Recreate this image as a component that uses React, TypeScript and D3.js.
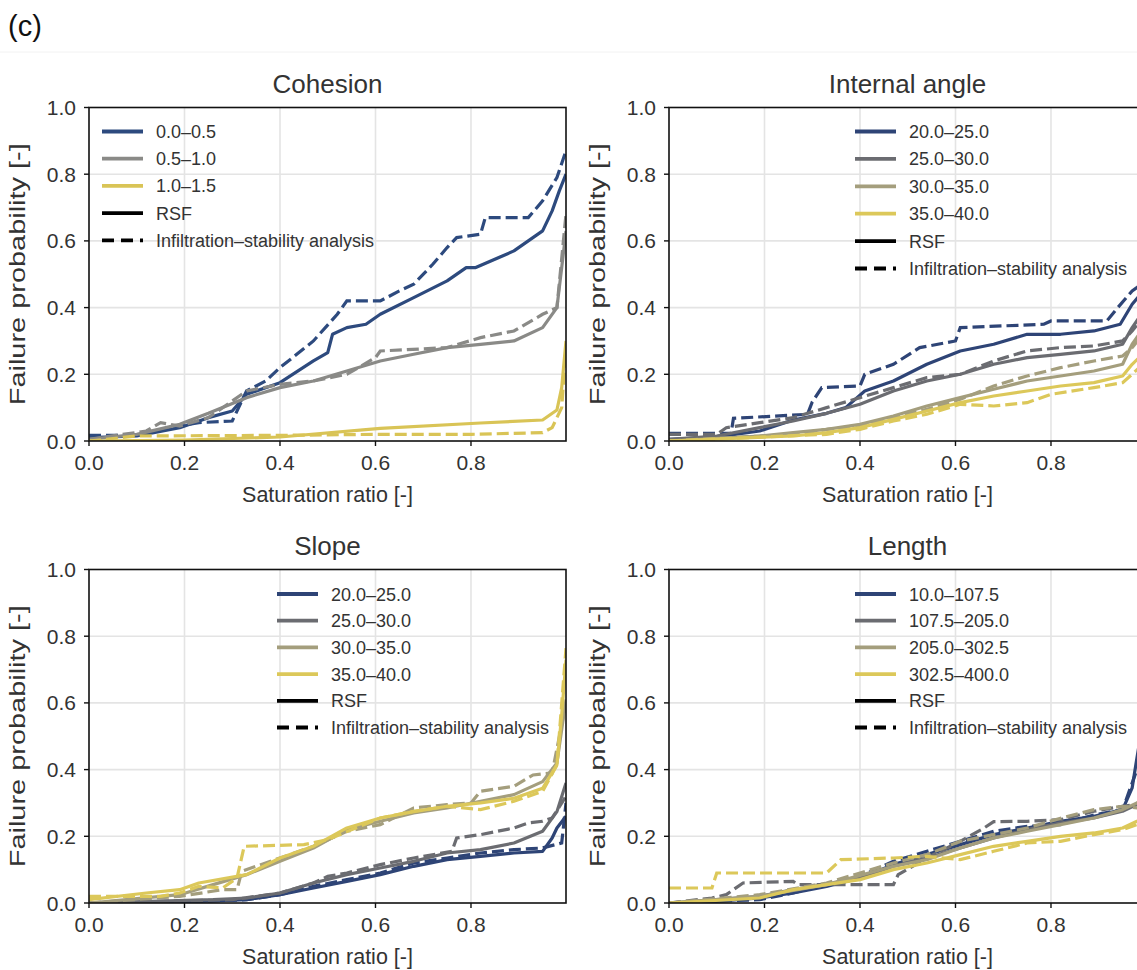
import React from "react";
import * as d3 from "d3";

type Pt = [number, number];

// ---------- Data ----------
const xTicks = [0, 0.2, 0.4, 0.6, 0.8];
const yTicks = [0, 0.2, 0.4, 0.6, 0.8, 1.0];
const panelTitles = ["Cohesion", "Internal angle", "Slope", "Length"];
const cohesionClasses = ["0.0–0.5", "0.5–1.0", "1.0–1.5"];
const angleClasses = ["20.0–25.0", "25.0–30.0", "30.0–35.0", "35.0–40.0"];
const slopeClasses = ["20.0–25.0", "25.0–30.0", "30.0–35.0", "35.0–40.0"];
const lengthClasses = ["10.0–107.5", "107.5–205.0", "205.0–302.5", "302.5–400.0"];
const methodLabels = ["RSF", "Infiltration–stability analysis"];

const colors3 = ["#2d4a7e", "#8a8a87", "#d9c456"];
const colors4 = ["#2e4476", "#6b6c71", "#a49e7d", "#dcc85a"];

// Cohesion
const cBlueRsf: Pt[] = [[0,0.01],[0.1,0.015],[0.19,0.04],[0.25,0.07],[0.3,0.09],[0.33,0.14],[0.4,0.175],[0.47,0.24],[0.5,0.265],[0.51,0.32],[0.54,0.34],[0.58,0.35],[0.61,0.38],[0.68,0.43],[0.75,0.48],[0.79,0.52],[0.81,0.52],[0.89,0.57],[0.95,0.63],[0.97,0.69],[0.985,0.75],[0.999,0.8]];
const cBlueIsa: Pt[] = [[0,0.017],[0.1,0.017],[0.19,0.045],[0.23,0.055],[0.3,0.06],[0.33,0.15],[0.37,0.18],[0.4,0.22],[0.47,0.3],[0.52,0.38],[0.54,0.42],[0.61,0.42],[0.65,0.45],[0.68,0.47],[0.72,0.53],[0.75,0.58],[0.77,0.61],[0.82,0.62],[0.83,0.67],[0.92,0.67],[0.95,0.72],[0.98,0.79],[0.999,0.87]];
const cGrayRsf: Pt[] = [[0,0.005],[0.1,0.02],[0.19,0.05],[0.25,0.083],[0.33,0.13],[0.4,0.16],[0.47,0.18],[0.54,0.21],[0.61,0.24],[0.68,0.26],[0.75,0.28],[0.82,0.29],[0.89,0.3],[0.95,0.34],[0.98,0.4],[0.99,0.52],[0.999,0.63]];
const cGrayIsa: Pt[] = [[0,0.005],[0.12,0.03],[0.15,0.055],[0.19,0.045],[0.25,0.07],[0.33,0.15],[0.4,0.17],[0.47,0.18],[0.54,0.2],[0.6,0.25],[0.61,0.27],[0.75,0.28],[0.82,0.31],[0.89,0.33],[0.95,0.38],[0.98,0.4],[0.999,0.68]];
const cYellowRsf: Pt[] = [[0,0],[0.2,0.003],[0.4,0.012],[0.61,0.038],[0.82,0.054],[0.95,0.063],[0.98,0.093],[0.99,0.16],[0.999,0.3]];
const cYellowIsa: Pt[] = [[0,0],[0.1,0.015],[0.4,0.017],[0.61,0.02],[0.8,0.02],[0.95,0.025],[0.97,0.04],[0.99,0.1],[0.999,0.28]];

// Internal angle
const aBlueRsf: Pt[] = [[0,0.005],[0.1,0.012],[0.19,0.03],[0.26,0.063],[0.33,0.083],[0.37,0.1],[0.41,0.15],[0.47,0.18],[0.54,0.23],[0.61,0.27],[0.68,0.29],[0.75,0.32],[0.82,0.32],[0.89,0.33],[0.945,0.35],[0.97,0.41],[0.999,0.46]];
const aBlueIsa: Pt[] = [[0,0.023],[0.13,0.023],[0.135,0.068],[0.29,0.08],[0.3,0.117],[0.32,0.16],[0.4,0.165],[0.41,0.2],[0.47,0.23],[0.525,0.28],[0.6,0.3],[0.61,0.34],[0.785,0.35],[0.8,0.36],[0.917,0.36],[0.94,0.4],[0.97,0.45],[0.999,0.48]];
const aDgrayRsf: Pt[] = [[0,0.005],[0.1,0.015],[0.19,0.04],[0.26,0.06],[0.33,0.083],[0.4,0.11],[0.47,0.15],[0.54,0.18],[0.61,0.2],[0.68,0.23],[0.75,0.25],[0.82,0.26],[0.89,0.27],[0.95,0.29],[0.97,0.34],[0.999,0.4]];
const aDgrayIsa: Pt[] = [[0,0.02],[0.1,0.02],[0.12,0.04],[0.19,0.055],[0.26,0.07],[0.33,0.1],[0.4,0.13],[0.47,0.16],[0.54,0.19],[0.61,0.2],[0.68,0.24],[0.75,0.27],[0.82,0.28],[0.89,0.285],[0.95,0.3],[0.97,0.33],[0.999,0.38]];
const aTanRsf: Pt[] = [[0,0],[0.19,0.015],[0.26,0.025],[0.33,0.035],[0.4,0.05],[0.47,0.075],[0.54,0.105],[0.61,0.13],[0.68,0.155],[0.75,0.18],[0.82,0.195],[0.89,0.21],[0.95,0.23],[0.97,0.29],[0.999,0.35]];
const aTanIsa: Pt[] = [[0,0],[0.26,0.02],[0.33,0.035],[0.4,0.045],[0.47,0.07],[0.54,0.095],[0.61,0.125],[0.68,0.165],[0.75,0.195],[0.82,0.22],[0.89,0.24],[0.95,0.255],[0.97,0.28],[0.999,0.33]];
const aYellowRsf: Pt[] = [[0,0],[0.26,0.015],[0.33,0.025],[0.4,0.04],[0.47,0.065],[0.54,0.09],[0.61,0.115],[0.68,0.135],[0.75,0.15],[0.82,0.165],[0.89,0.175],[0.95,0.195],[0.97,0.23],[0.999,0.27]];
const aYellowIsa: Pt[] = [[0,0],[0.33,0.02],[0.4,0.035],[0.47,0.06],[0.54,0.08],[0.61,0.11],[0.68,0.105],[0.75,0.115],[0.8,0.14],[0.89,0.16],[0.95,0.175],[0.97,0.2],[0.999,0.24]];

// Slope
const sBlueRsf: Pt[] = [[0,0],[0.2,0.003],[0.33,0.01],[0.4,0.025],[0.47,0.045],[0.54,0.065],[0.61,0.085],[0.68,0.11],[0.75,0.13],[0.82,0.14],[0.89,0.15],[0.95,0.155],[0.97,0.195],[0.98,0.225],[0.999,0.26]];
const sBlueIsa: Pt[] = [[0,0],[0.2,0.003],[0.33,0.01],[0.4,0.025],[0.47,0.05],[0.54,0.07],[0.61,0.09],[0.68,0.12],[0.75,0.135],[0.82,0.15],[0.89,0.16],[0.95,0.165],[0.99,0.18],[0.999,0.3]];
const sDgrayRsf: Pt[] = [[0,0],[0.26,0.01],[0.33,0.015],[0.4,0.03],[0.47,0.06],[0.54,0.085],[0.61,0.105],[0.68,0.125],[0.75,0.15],[0.82,0.16],[0.89,0.18],[0.95,0.215],[0.98,0.274],[0.999,0.36]];
const sDgrayIsa: Pt[] = [[0,0],[0.3,0.01],[0.4,0.03],[0.47,0.06],[0.5,0.08],[0.54,0.09],[0.61,0.115],[0.68,0.135],[0.76,0.155],[0.77,0.195],[0.82,0.205],[0.89,0.225],[0.92,0.24],[0.95,0.245],[0.97,0.255],[0.999,0.32]];
const sTanRsf: Pt[] = [[0,0],[0.19,0.025],[0.26,0.055],[0.33,0.085],[0.4,0.125],[0.47,0.165],[0.54,0.22],[0.61,0.245],[0.68,0.27],[0.75,0.285],[0.82,0.305],[0.89,0.325],[0.95,0.364],[0.98,0.42],[0.999,0.61]];
const sTanIsa: Pt[] = [[0,0],[0.19,0.02],[0.28,0.04],[0.31,0.04],[0.32,0.095],[0.4,0.135],[0.47,0.17],[0.54,0.215],[0.61,0.235],[0.68,0.285],[0.75,0.295],[0.8,0.3],[0.82,0.335],[0.89,0.35],[0.93,0.384],[0.97,0.39],[0.999,0.6]];
const sYellowRsf: Pt[] = [[0,0.01],[0.12,0.03],[0.19,0.04],[0.23,0.06],[0.33,0.085],[0.4,0.135],[0.47,0.17],[0.54,0.225],[0.61,0.255],[0.68,0.274],[0.75,0.29],[0.82,0.3],[0.89,0.314],[0.95,0.344],[0.98,0.414],[0.99,0.564],[0.999,0.73]];
const sYellowIsa: Pt[] = [[0,0.02],[0.15,0.02],[0.19,0.03],[0.23,0.05],[0.28,0.045],[0.31,0.075],[0.325,0.17],[0.45,0.175],[0.5,0.19],[0.54,0.214],[0.61,0.255],[0.68,0.275],[0.75,0.29],[0.82,0.28],[0.89,0.305],[0.95,0.335],[0.98,0.414],[0.999,0.764]];

// Length
const lBlueRsf: Pt[] = [[0,0],[0.1,0.005],[0.19,0.015],[0.26,0.03],[0.33,0.05],[0.4,0.075],[0.47,0.115],[0.54,0.145],[0.61,0.175],[0.68,0.205],[0.75,0.225],[0.82,0.245],[0.89,0.26],[0.95,0.28],[0.97,0.345],[0.98,0.435],[0.999,0.6]];
const lBlueIsa: Pt[] = [[0,0],[0.19,0.01],[0.26,0.03],[0.33,0.055],[0.4,0.08],[0.47,0.125],[0.54,0.155],[0.61,0.185],[0.68,0.215],[0.75,0.23],[0.82,0.235],[0.89,0.264],[0.95,0.28],[0.98,0.4],[0.999,0.55]];
const lDgrayRsf: Pt[] = [[0,0],[0.19,0.02],[0.26,0.04],[0.33,0.055],[0.4,0.075],[0.47,0.11],[0.54,0.135],[0.61,0.165],[0.68,0.195],[0.75,0.22],[0.82,0.24],[0.89,0.255],[0.95,0.275],[0.98,0.295],[0.999,0.32]];
const lDgrayIsa: Pt[] = [[0,0],[0.09,0.015],[0.12,0.025],[0.155,0.06],[0.26,0.065],[0.27,0.055],[0.47,0.055],[0.48,0.085],[0.54,0.135],[0.61,0.185],[0.66,0.225],[0.68,0.244],[0.75,0.245],[0.82,0.25],[0.89,0.275],[0.95,0.29],[0.999,0.3]];
const lTanRsf: Pt[] = [[0,0],[0.19,0.02],[0.33,0.055],[0.47,0.11],[0.54,0.13],[0.61,0.165],[0.68,0.195],[0.75,0.215],[0.82,0.235],[0.89,0.255],[0.95,0.28],[0.98,0.3],[0.999,0.32]];
const lTanIsa: Pt[] = [[0,0],[0.19,0.025],[0.33,0.06],[0.47,0.12],[0.54,0.145],[0.61,0.185],[0.68,0.205],[0.75,0.225],[0.82,0.254],[0.89,0.28],[0.95,0.29],[0.98,0.285],[0.999,0.3]];
const lYellowRsf: Pt[] = [[0,0],[0.19,0.015],[0.26,0.04],[0.33,0.055],[0.4,0.07],[0.47,0.1],[0.54,0.12],[0.61,0.145],[0.68,0.17],[0.75,0.185],[0.82,0.2],[0.89,0.21],[0.95,0.225],[0.98,0.245],[0.999,0.26]];
const lYellowIsa: Pt[] = [[0,0.045],[0.09,0.045],[0.1,0.09],[0.33,0.09],[0.36,0.13],[0.47,0.135],[0.54,0.14],[0.61,0.13],[0.68,0.155],[0.75,0.18],[0.82,0.185],[0.89,0.205],[0.95,0.22],[0.98,0.235],[0.999,0.25]];

// ---------- Layout ----------
const W = 1137;
const H = 970;
const FONT = "'Liberation Sans', Arial, Helvetica, sans-serif";
const TEXT = "#333333";
const DASH = "12,5";

type Panel = {
  title: string;
  left: number;
  top: number;
  classes: string[];
  colors: string[];
  rsf: Pt[][];
  isa: Pt[][];
  legendDx: number;
  legendDy: number;
  legendStep: number;
};

const PW = 477;
const PH = 333.5;

const panels: Panel[] = [
  { title: panelTitles[0], left: 89, top: 107.5, classes: cohesionClasses, colors: colors3,
    rsf: [cBlueRsf, cGrayRsf, cYellowRsf], isa: [cBlueIsa, cGrayIsa, cYellowIsa],
    legendDx: 13, legendDy: 24, legendStep: 27.2 },
  { title: panelTitles[1], left: 669, top: 107.5, classes: angleClasses, colors: colors4,
    rsf: [aBlueRsf, aDgrayRsf, aTanRsf, aYellowRsf], isa: [aBlueIsa, aDgrayIsa, aTanIsa, aYellowIsa],
    legendDx: 186, legendDy: 24, legendStep: 27.4 },
  { title: panelTitles[2], left: 89, top: 569.5, classes: slopeClasses, colors: colors4,
    rsf: [sBlueRsf, sDgrayRsf, sTanRsf, sYellowRsf], isa: [sBlueIsa, sDgrayIsa, sTanIsa, sYellowIsa],
    legendDx: 188, legendDy: 24.5, legendStep: 26.7 },
  { title: panelTitles[3], left: 669, top: 569.5, classes: lengthClasses, colors: colors4,
    rsf: [lBlueRsf, lDgrayRsf, lTanRsf, lYellowRsf], isa: [lBlueIsa, lDgrayIsa, lTanIsa, lYellowIsa],
    legendDx: 186, legendDy: 24.5, legendStep: 26.7 },
];

function PanelView({ p, idx }: { p: Panel; idx: number }) {
  const x = d3.scaleLinear().domain([0, 0.999]).range([p.left, p.left + PW]);
  const y = d3.scaleLinear().domain([0, 1]).range([p.top + PH, p.top]);
  const line = d3.line<Pt>().x((d) => x(d[0])).y((d) => y(d[1]));
  const clipId = `clip-${idx}`;
  const x0 = p.left, x1 = p.left + PW, y0 = p.top, y1 = p.top + PH;
  const cx = (x0 + x1) / 2;
  const cy = (y0 + y1) / 2;

  const lgX = p.left + p.legendDx;
  const lgY = p.top + p.legendDy;
  const legendItems = [
    ...p.classes.map((c, i) => ({ label: c, color: p.colors[i], dash: undefined as string | undefined })),
    { label: methodLabels[0], color: "#000", dash: undefined },
    { label: methodLabels[1], color: "#000", dash: "12,7" },
  ];

  return (
    <g>
      <defs>
        <clipPath id={clipId}>
          <rect x={x0} y={y0} width={PW} height={PH} />
        </clipPath>
      </defs>
      <rect x={x0} y={y0} width={PW} height={PH} fill="#fff" />
      {/* grid */}
      {xTicks.filter((t) => t > 0).map((t) => (
        <line key={`gx${t}`} x1={x(t)} x2={x(t)} y1={y0} y2={y1} stroke="#e4e4e4" strokeWidth={1.6} />
      ))}
      {yTicks.filter((t) => t > 0 && t < 1).map((t) => (
        <line key={`gy${t}`} x1={x0} x2={x1} y1={y(t)} y2={y(t)} stroke="#e4e4e4" strokeWidth={1.6} />
      ))}
      {/* series */}
      <g clipPath={`url(#${clipId})`}>
        {p.rsf.map((s, i) => (
          <g key={`s${i}`}>
            <path d={line(s) || ""} fill="none" stroke={p.colors[i]} strokeWidth={3.2} strokeLinejoin="round" />
            <path d={line(p.isa[i]) || ""} fill="none" stroke={p.colors[i]} strokeWidth={3.2} strokeDasharray={DASH} />
          </g>
        ))}
      </g>
      {/* frame */}
      <rect x={x0} y={y0} width={PW} height={PH} fill="none" stroke="#111" strokeWidth={1.6} />
      {/* ticks */}
      {xTicks.map((t) => (
        <g key={`tx${t}`}>
          <line x1={x(t)} x2={x(t)} y1={y1} y2={y1 + 5} stroke="#111" strokeWidth={1.4} />
          <text x={x(t)} y={y1 + 29} textAnchor="middle" fontSize={21} fill={TEXT} fontFamily={FONT}>
            {d3.format(".1f")(t)}
          </text>
        </g>
      ))}
      {yTicks.map((t) => (
        <g key={`ty${t}`}>
          <line x1={x0 - 5} x2={x0} y1={y(t)} y2={y(t)} stroke="#111" strokeWidth={1.4} />
          <text x={x0 - 13} y={y(t) + 7.5} textAnchor="end" fontSize={21} fill={TEXT} fontFamily={FONT}>
            {d3.format(".1f")(t)}
          </text>
        </g>
      ))}
      {/* labels */}
      <text x={cx} y={y0 - 15} textAnchor="middle" fontSize={26} fill={TEXT} fontFamily={FONT}>{p.title}</text>
      <text x={cx} y={y1 + 61} textAnchor="middle" fontSize={21.5} fill={TEXT} fontFamily={FONT}>Saturation ratio [-]</text>
      <text
        transform={`translate(${x0 - 64},${cy}) rotate(-90)`}
        textAnchor="middle"
        fontSize={22}
        fill={TEXT}
        fontFamily={FONT}
        textLength={262}
        lengthAdjust="spacingAndGlyphs"
      >
        Failure probability [-]
      </text>
      {/* legend */}
      {legendItems.map((it, i) => {
        const ry = lgY + i * p.legendStep;
        return (
          <g key={`lg${i}`}>
            <line x1={lgX} x2={lgX + 41} y1={ry} y2={ry} stroke={it.color} strokeWidth={3.8} strokeDasharray={it.dash} />
            <text x={lgX + 54} y={ry + 6.5} fontSize={18} fill={TEXT} fontFamily={FONT}>{it.label}</text>
          </g>
        );
      })}
    </g>
  );
}

export default function App() {
  return (
    <svg
      width={W}
      height={H}
      viewBox={`0 0 ${W} ${H}`}
      style={{ position: "absolute", left: 0, top: 0, display: "block", background: "#fff" }}
    >
      <rect x={0} y={0} width={W} height={H} fill="#fff" />
      <text x={8} y={36} fontSize={29} fill="#111" fontFamily={FONT}>(c)</text>
      <line x1={0} x2={W} y1={52} y2={52} stroke="#f2f2f2" strokeWidth={1} />
      {panels.map((p, i) => (
        <PanelView key={i} p={p} idx={i} />
      ))}
    </svg>
  );
}
